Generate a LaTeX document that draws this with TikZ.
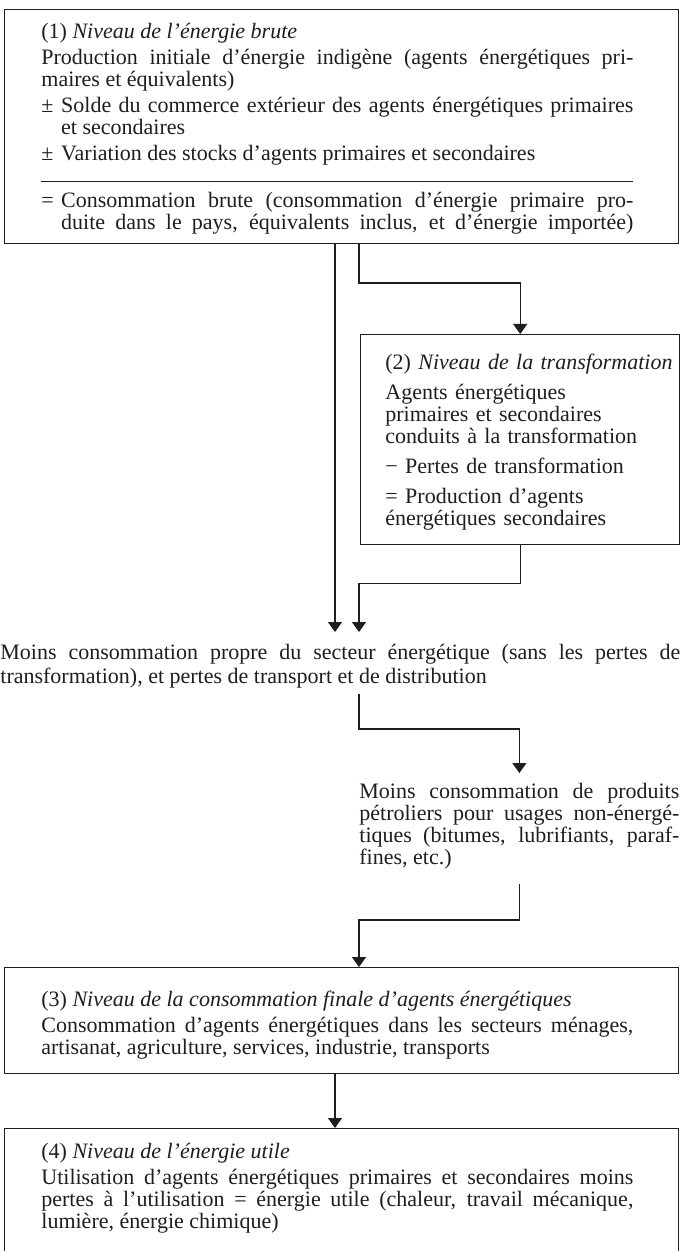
\documentclass[tikz,border=0pt]{standalone}
\usepackage{fontspec}
\setmainfont{Liberation Serif}
\usetikzlibrary{arrows.meta,calc}
\definecolor{ink}{HTML}{1E1E1E}
\newcommand{\itm}[2]{\par\hangindent=0.9em\hangafter=1\noindent\makebox[0.9em][l]{#1}#2}

\tikzset{
  frame/.style={draw=ink, line width=.7pt, anchor=north west, inner sep=0pt},
  txt/.style={anchor=north west, inner sep=0pt, text=ink, align=justify,
    font=\fontsize{11}{11}\selectfont,
    execute at begin node={\parindent=0pt\parskip=2pt\tolerance=9999\relax}},
  flow/.style={draw=ink, line width=.7pt, -{Triangle[width=7pt,length=5pt]}}
}

\begin{document}
\begin{tikzpicture}[x=.5pt, y=-.5pt]
\useasboundingbox (0,0) rectangle (680,1251);
\clip (0,0) rectangle (680,1251);

% frames of the four levels
\foreach \n/\y/\h in {box1/9/117pt, box3/967/53pt, box4/1128/70pt}
  \node[frame, minimum width=337pt, minimum height=\h] (\n) at (4,\y) {};
\node[frame, minimum width=159.5pt, minimum height=105pt] (box2) at (360,334) {};

% texts
\node[txt, text width=296pt] (txt1) at (41,23) {\strut(1) \textit{Niveau de l’énergie brute}\par
Production initiale d’énergie indigène (agents énergétiques pri-\linebreak maires et équivalents)
\itm{±}{Solde du commerce extérieur des agents énergétiques primaires\linebreak et secondaires}
\itm{±}{Variation des stocks d’agents primaires et secondaires\strut}\par
\vspace{6.7pt}\hrule height .7pt\vspace{2.8pt}
\itm{=}{\strut Consommation brute (consommation d’énergie primaire pro-\linebreak duite dans le pays, équivalents inclus, et d’énergie importée)\parfillskip=0pt\par}};

\node[txt, text width=146pt, align=left] (txt2) at (385,354) {\parskip=4pt\relax
\strut(2) \textit{Niveau de la transformation}\par
Agents énergétiques\\ primaires et secondaires\\ conduits à la transformation
\itm{−}{Pertes de transformation}
\itm{=}{Production d’agents\\ énergétiques secondaires}};

\node[txt, text width=340pt] (own) at (0,644) {\strut\makebox[\linewidth][s]{Moins consommation propre du secteur énergétique (sans les pertes de}\\
transformation), et pertes de transport et de distribution};

\node[txt, text width=160pt] (nonen) at (359,783) {\strut Moins consommation de produits\linebreak pétroliers pour usages non-énergé-\linebreak tiques (bitumes, lubrifiants, paraf-\linebreak fines, etc.)};

\node[txt, text width=296pt] (txt3) at (41,991) {\strut(3) \textit{Niveau de la consommation finale d’agents énergétiques}\par
Consommation d’agents énergétiques dans les secteurs ménages,\linebreak artisanat, agriculture, services, industrie, transports};

\node[txt, text width=296pt] (txt4) at (41,1143) {\strut(4) \textit{Niveau de l’énergie utile}\par
Utilisation d’agents énergétiques primaires et secondaires moins\linebreak pertes à l’utilisation = énergie utile (chaleur, travail mécanique,\linebreak lumière, énergie chimique)};

% connectors
\coordinate (colA) at (335,0);
\coordinate (colB) at (359,0);
\draw[flow, shorten >=6pt] (colA |- box1.south) -- (colA |- own.north);
\draw[flow] (colB |- box1.south) |- ($(box2.north)+(0,-51)$) -- (box2.north);
\draw[flow, shorten >=6pt] (box2.south) -- ++(0,38) -| (colB |- own.north);
\draw[flow, shorten <=2.5pt, shorten >=5pt] (colB |- own.south) -- ++(0,40) -| (nonen.north);
\draw[flow, shorten <=7pt] (nonen.south) -- ++(0,50) -| (colB |- box3.north);
\draw[flow] (colA |- box3.south) -- (colA |- box4.north);

\end{tikzpicture}
\end{document}
